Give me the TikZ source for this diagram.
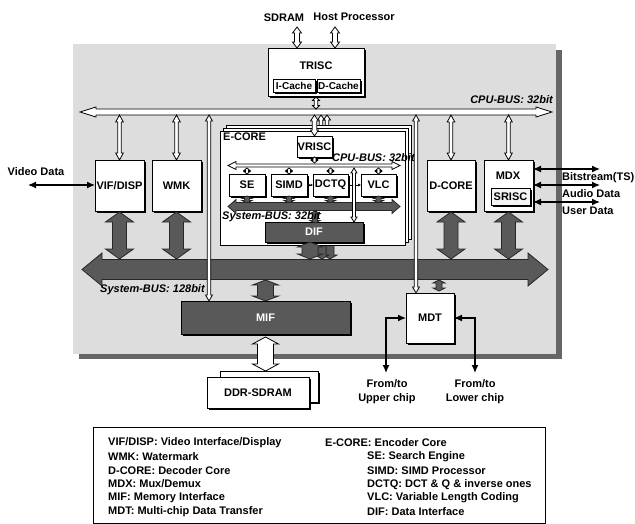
\documentclass[tikz,border=0pt]{standalone}
\usepackage{fontspec}
\setmainfont{Liberation Sans}
\usetikzlibrary{calc,arrows.meta,shadows,positioning}

\definecolor{chipgray}{RGB}{221,221,221}
\definecolor{busgray}{RGB}{89,89,89}
\definecolor{rimgray}{RGB}{102,102,102}

\tikzset{
  % block arrow between two points: shaft half width, head half width, head length
  blockarrow/.style n args={3}{to path={
    -- ($(\tikztostart)!#3!(\tikztotarget)!#2!90:(\tikztotarget)$)
    -- ($(\tikztostart)!#3!(\tikztotarget)!#1!90:(\tikztotarget)$)
    -- ($(\tikztotarget)!#3!(\tikztostart)!#1!-90:(\tikztostart)$)
    -- ($(\tikztotarget)!#3!(\tikztostart)!#2!-90:(\tikztostart)$)
    -- (\tikztotarget)
    -- ($(\tikztotarget)!#3!(\tikztostart)!#2!90:(\tikztostart)$)
    -- ($(\tikztotarget)!#3!(\tikztostart)!#1!90:(\tikztostart)$)
    -- ($(\tikztostart)!#3!(\tikztotarget)!#1!-90:(\tikztotarget)$)
    -- ($(\tikztostart)!#3!(\tikztotarget)!#2!-90:(\tikztotarget)$)
    -- cycle}},
  hollow/.style n args={3}{draw=black, line width=0.8pt, fill=white, blockarrow={#1}{#2}{#3}},
  heavy/.style n args={3}{draw=black!85, line width=0.8pt, fill=busgray, blockarrow={#1}{#2}{#3}},
  box/.style={draw=black, fill=white, line width=0.9pt, inner sep=0pt, outer sep=0pt,
    anchor=north west, drop shadow={shadow xshift=2pt, shadow yshift=-2pt, fill=black, opacity=1}},
  darkbox/.style={box, fill=busgray, text=white},
  smallshadow/.style={drop shadow={shadow xshift=1pt, shadow yshift=-1pt, fill=black, opacity=1}},
  sig/.style={line width=1.3pt, {Latex[length=8pt,width=7pt]}-{Latex[length=8pt,width=7pt]}},
  lbl/.style={font=\bfseries\fontsize{11}{14}\selectfont, inner sep=0pt},
  buslbl/.style={font=\bfseries\itshape\fontsize{11}{14}\selectfont, inner sep=0pt},
}

\begin{document}
\begin{tikzpicture}[x=1pt, y=-1pt, lbl]
  \useasboundingbox (0,0) rectangle (635,524);
  % chip area
  \fill[rimgray] (79,50) rectangle (562,359);
  \fill[chipgray] (73,44) rectangle (556,354);

  % outer CPU bus
  \coordinate (cpuL) at (80,112);
  \coordinate (cpuR) at (552,112);
  \coordinate (cpuTop) at (0,109);
  \coordinate (cpuBot) at (0,115);
  \draw[hollow={3pt}{5pt}{16pt}] (cpuL) to (cpuR);
  \node[buslbl, anchor=east] (cpulbl) at (553,100) {CPU-BUS: 32bit};

  % TRISC with caches
  \node[box, minimum width=96pt, minimum height=48pt] (trisc) at (268,48) {};
  \node (trisclbl) at (316,66) {TRISC};
  \node[box, smallshadow, font=\bfseries\fontsize{10}{12}\selectfont, minimum width=42pt,
    minimum height=13pt] (icache) at (273,79) {I-Cache};
  \node[box, smallshadow, font=\bfseries\fontsize{10}{12}\selectfont, minimum width=43pt,
    minimum height=13pt] (dcache) at (317,79) {D-Cache};
  \node (sdram) at (284,18) {SDRAM};
  \node (host) at (354,17) {Host Processor};
  \coordinate (sdp) at (297,27);
  \coordinate (hpp) at (335,27);
  \draw[hollow={2.5pt}{4.5pt}{6pt}] (sdp) to (sdp |- trisc.north);
  \draw[hollow={2.5pt}{4.5pt}{6pt}] (hpp) to (hpp |- trisc.north);
  \draw[hollow={1.8pt}{3.5pt}{3.5pt}] ([yshift=-1pt]trisc.south) to (trisc.south |- cpuTop);

  % boxes on the CPU bus
  \node[box, minimum width=49pt, minimum height=51pt] (vif) at (95,160) {VIF/DISP};
  \node[box, minimum width=49pt, minimum height=51pt] (wmk) at (152,160) {WMK};
  \node[box, minimum width=48pt, minimum height=51pt] (dcore) at (427,160) {D-CORE};
  \node[box, minimum width=49pt, minimum height=51pt] (mdx) at (484,160) {};
  \node (mdxlbl) at (508,176) {MDX};
  \node[box, smallshadow, minimum width=39pt, minimum height=17pt, fill=black!4] (srisc) at (491,188) {SRISC};
  \foreach \u in {vif, wmk, dcore, mdx}
    \draw[hollow={1.8pt}{3.8pt}{7pt}] (\u.north |- cpuBot) to (\u.north);

  % E-CORE stack
  \draw[hollow={1.8pt}{3.5pt}{5pt}] (327,115) to (327,135);
  \draw[hollow={1.8pt}{3.5pt}{5pt}] (321,115) to (321,135);
  \draw[heavy={4pt}{7pt}{4pt}] (330,236) to (330,259);
  \draw[heavy={4pt}{7pt}{4pt}] (322,239) to (322,259);
  \foreach \d in {6,3,0}
    \node[draw, fill=white, line width=0.8pt, inner sep=0pt, anchor=north west,
      minimum width=185pt, minimum height=114pt] (ecore\d) at (220+\d,131-\d) {};
  \node[anchor=west] (ecorelbl) at (223,137) {E-CORE};
  \node[box, smallshadow, minimum width=35pt, minimum height=21pt] (vrisc) at (297,136) {VRISC};
  \draw[hollow={2.3pt}{4pt}{6pt}] (vrisc.north |- cpuBot) to (vrisc.north);

  % E-CORE internal buses and units
  \coordinate (icpuL) at (228,165.5);
  \coordinate (icpuR) at (400,165.5);
  \coordinate (icpuTop) at (0,163);
  \coordinate (icpuBot) at (0,168);
  \coordinate (isysL) at (228,206.5);
  \coordinate (isysR) at (400,206.5);
  \coordinate (isysTop) at (0,203);
  \draw[hollow={1.5pt}{4pt}{8pt}] (icpuL) to (icpuR);
  \draw[hollow={1.5pt}{3pt}{2.5pt}] (vrisc.south) to (vrisc.south |- icpuTop);
  \foreach \nm/\txt/\x/\w in {se/SE/229/36, simd/SIMD/271/36, dctq/DCTQ/313/35, vlc/VLC/361/35} {
    \node[box, smallshadow, minimum width=\w pt, minimum height=22pt] (\nm) at (\x,174) {\txt};
    \draw[hollow={1.5pt}{3pt}{2.5pt}] (\nm.north |- icpuBot) to (\nm.north);
    \draw[heavy={2.5pt}{5pt}{2.5pt}] (\nm.south) to (\nm.south |- isysTop);
  }
  \draw[line width=0.5pt, {Latex[length=2.5pt,width=2.5pt]}-{Latex[length=2.5pt,width=2.5pt]}] (simd.east) -- (dctq.west);
  \draw[line width=0.5pt, -{Latex[length=3pt,width=3pt]}] (dctq.east) -- (vlc.west);
  \draw[heavy={4pt}{7pt}{8pt}] (isysL) to (isysR);
  \node[darkbox, minimum width=98pt, minimum height=20pt] (dif) at (265,222) {DIF};
  \coordinate (isysBot) at (315,211);
  \draw[heavy={2.5pt}{5pt}{2.5pt}] (isysBot) to ([yshift=-1pt]isysBot |- dif.north);
  \coordinate (ivert) at (354,168);
  \draw[hollow={1.5pt}{3pt}{5pt}] (ivert) to (ivert |- dif.north);
  \node[buslbl, anchor=west] (icpulbl) at (332,158) {CPU-BUS: 32bit};
  \node[buslbl, anchor=west] (isyslbl) at (222,217) {System-BUS: 32bit};

  % system bus 128bit
  \coordinate (sysL) at (82,269.5);
  \coordinate (sysR) at (548,269.5);
  \coordinate (sysTop) at (0,259);
  \coordinate (sysBot) at (0,280);
  \foreach \u in {vif, wmk, dcore, mdx}
    \draw[heavy={7pt}{14pt}{10pt}] ([yshift=-1pt]\u.south) to (\u.south |- sysTop);
  \coordinate (difA) at (310,242);
  \draw[heavy={8pt}{12.5pt}{5pt}] (difA) to (difA |- sysTop);
  \draw[heavy={10pt}{16.5pt}{20pt}] (sysL) to (sysR);
  \node[buslbl, anchor=west] (syslbl) at (100,290) {System-BUS: 128bit};

  % MIF, MDT
  \node[darkbox, minimum width=169pt, minimum height=33pt] (mif) at (181,301) {MIF};
  \draw[heavy={8pt}{13pt}{5pt}] (mif.north |- sysBot) to (mif.north);
  \node[box, minimum width=48pt, minimum height=50pt] (mdt) at (406,293) {MDT};
  \coordinate (mdtA) at (439,280);
  \draw[heavy={3pt}{6pt}{3pt}] (mdtA) to (439,291);
  \coordinate (tapA) at (209,115);
  \coordinate (tapB) at (416,115);
  \draw[hollow={1.7pt}{3.4pt}{6pt}] (tapA) to (tapA |- mif.north);
  \draw[hollow={1.7pt}{3.4pt}{6pt}] (tapB) to (tapB |- mdt.north);

  % external DDR-SDRAM
  \node[box, minimum width=98pt, minimum height=31pt] (ddrb) at (220,371) {};
  \node[box, minimum width=102pt, minimum height=31pt] (ddr) at (207,377) {DDR-SDRAM};
  \draw[hollow={8pt}{13pt}{7pt}] ([yshift=-3pt]mif.south) to (mif.south |- ddrb.north);

  % external signals
  \node (video) at (36,172) {Video Data};
  \coordinate (vidL) at (28,185);
  \draw[sig] (vidL) -- (vidL -| vif.west);
  \foreach \nm/\txt/\y in {bits/Bitstream(TS)/169, audio/Audio Data/185, user/User Data/202} {
    \coordinate (\nm) at (600,\y);
    \draw[sig] (mdx.east |- \nm) -- (\nm);
    \node[anchor=west] (\nm lbl) at (562,\y+9) {\txt};
  }
  \coordinate (upc) at (386,373);
  \coordinate (loc) at (475,373);
  \draw[sig] (upc) |- (mdt.west);
  \draw[sig] (loc) |- (mdt.east);
  \node[align=center] (uplbl) at (387,392) {From/to\\Upper chip};
  \node[align=center] (lolbl) at (475,392) {From/to\\Lower chip};

  % legend
  \node[draw, line width=0.8pt, inner sep=0pt, anchor=north west,
    minimum width=452pt, minimum height=96pt] (legend) at (93,427) {};
  \foreach \txt [count=\i from 0] in {{VIF/DISP: Video Interface/Display}, {WMK: Watermark},
      {D-CORE: Decoder Core}, {MDX: Mux/Demux}, {MIF: Memory Interface},
      {MDT: Multi-chip Data Transfer}}
    \node[anchor=west] (legl\i) at (108,{443+13.7*\i}) {\txt};
  \node[anchor=west] (legr0) at (325,443) {E-CORE: Encoder Core};
  \foreach \txt [count=\i] in {{SE: Search Engine}, {SIMD: SIMD Processor},
      {DCTQ: DCT \& Q \& inverse ones}, {VLC: Variable Length Coding}, {DIF: Data Interface}}
    \node[anchor=west] (legr\i) at (367,{443+13.7*\i}) {\txt};
\end{tikzpicture}
\end{document}
